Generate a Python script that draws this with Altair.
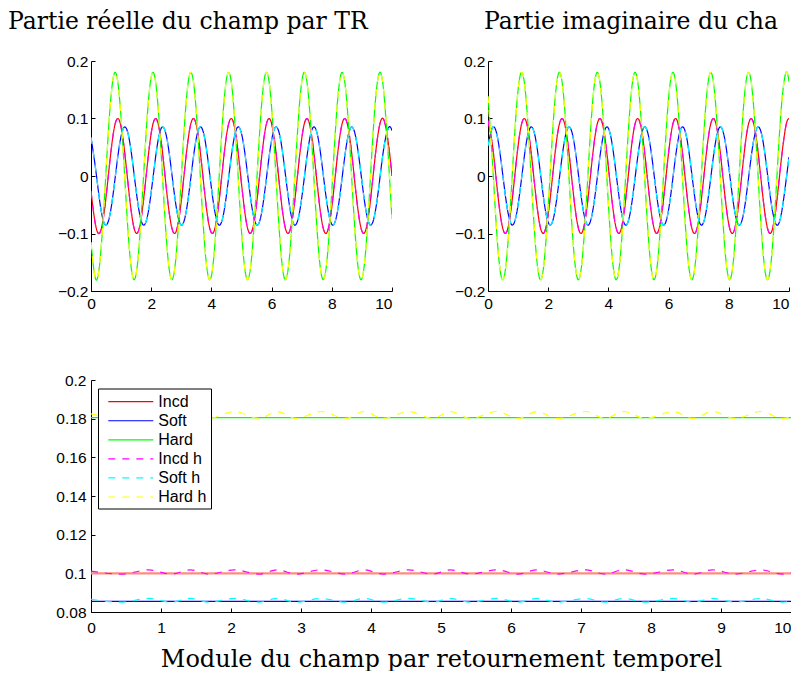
import altair as alt
import pandas as pd

# ---------------- data ----------------
# time samples (s) used for the real / imaginary parts
T = [0.000, 0.157, 0.314, 0.471, 0.628, 0.785, 0.942, 1.100,
     1.257, 1.414, 1.571, 1.728, 1.885, 2.042, 2.199, 2.356,
     2.513, 2.670, 2.827, 2.985, 3.142, 3.299, 3.456, 3.613,
     3.770, 3.927, 4.084, 4.241, 4.398, 4.555, 4.712, 4.869,
     5.027, 5.184, 5.341, 5.498, 5.655, 5.812, 5.969, 6.126,
     6.283, 6.440, 6.597, 6.754, 6.912, 7.069, 7.226, 7.383,
     7.540, 7.697, 7.854, 8.011, 8.168, 8.325, 8.482, 8.639,
     8.796, 8.954, 9.111, 9.268, 9.425, 9.582, 9.739, 9.896,
     10.000]

INCD_RE = [-0.0262, -0.0868, -0.0965, -0.0497, 0.0262, 0.0868, 0.0965, 0.0497,
           -0.0262, -0.0868, -0.0965, -0.0497, 0.0262, 0.0868, 0.0965, 0.0497,
           -0.0262, -0.0868, -0.0965, -0.0497, 0.0262, 0.0868, 0.0965, 0.0497,
           -0.0262, -0.0868, -0.0965, -0.0497, 0.0262, 0.0868, 0.0965, 0.0497,
           -0.0262, -0.0868, -0.0965, -0.0497, 0.0262, 0.0868, 0.0965, 0.0497,
           -0.0262, -0.0868, -0.0965, -0.0497, 0.0262, 0.0868, 0.0965, 0.0497,
           -0.0262, -0.0868, -0.0965, -0.0497, 0.0262, 0.0868, 0.0965, 0.0497,
           -0.0262, -0.0868, -0.0965, -0.0497, 0.0262, 0.0868, 0.0965, 0.0497,
           0.0]
INCD_IM = [0.0965, 0.0497, -0.0262, -0.0868, -0.0965, -0.0497, 0.0262, 0.0868,
           0.0965, 0.0497, -0.0262, -0.0868, -0.0965, -0.0497, 0.0262, 0.0868,
           0.0965, 0.0497, -0.0262, -0.0868, -0.0965, -0.0497, 0.0262, 0.0868,
           0.0965, 0.0497, -0.0262, -0.0868, -0.0965, -0.0497, 0.0262, 0.0868,
           0.0965, 0.0497, -0.0262, -0.0868, -0.0965, -0.0497, 0.0262, 0.0868,
           0.0965, 0.0497, -0.0262, -0.0868, -0.0965, -0.0497, 0.0262, 0.0868,
           0.0965, 0.0497, -0.0262, -0.0868, -0.0965, -0.0497, 0.0262, 0.0868,
           0.0965, 0.0497, -0.0262, -0.0868, -0.0965, -0.0497, 0.0262, 0.0868,
           0.1]
SOFT_RE = [0.0675, 0.0106, -0.0525, -0.0848, -0.0675, -0.0106, 0.0525, 0.0848,
           0.0675, 0.0106, -0.0525, -0.0848, -0.0675, -0.0106, 0.0525, 0.0848,
           0.0675, 0.0106, -0.0525, -0.0848, -0.0675, -0.0106, 0.0525, 0.0848,
           0.0675, 0.0106, -0.0525, -0.0848, -0.0675, -0.0106, 0.0525, 0.0848,
           0.0675, 0.0106, -0.0525, -0.0848, -0.0675, -0.0106, 0.0525, 0.0848,
           0.0675, 0.0106, -0.0525, -0.0848, -0.0675, -0.0106, 0.0525, 0.0848,
           0.0675, 0.0106, -0.0525, -0.0848, -0.0675, -0.0106, 0.0525, 0.0848,
           0.0675, 0.0106, -0.0525, -0.0848, -0.0675, -0.0106, 0.0525, 0.0848,
           0.0789]
SOFT_IM = [0.0525, 0.0848, 0.0675, 0.0106, -0.0525, -0.0848, -0.0675, -0.0106,
           0.0525, 0.0848, 0.0675, 0.0106, -0.0525, -0.0848, -0.0675, -0.0106,
           0.0525, 0.0848, 0.0675, 0.0106, -0.0525, -0.0848, -0.0675, -0.0106,
           0.0525, 0.0848, 0.0675, 0.0106, -0.0525, -0.0848, -0.0675, -0.0106,
           0.0525, 0.0848, 0.0675, 0.0106, -0.0525, -0.0848, -0.0675, -0.0106,
           0.0525, 0.0848, 0.0675, 0.0106, -0.0525, -0.0848, -0.0675, -0.0106,
           0.0525, 0.0848, 0.0675, 0.0106, -0.0525, -0.0848, -0.0675, -0.0106,
           0.0525, 0.0848, 0.0675, 0.0106, -0.0525, -0.0848, -0.0675, -0.0106,
           0.0330]
HARD_RE = [-0.1153, -0.1797, -0.1388, -0.0166, 0.1153, 0.1797, 0.1388, 0.0166,
           -0.1153, -0.1797, -0.1388, -0.0166, 0.1153, 0.1797, 0.1388, 0.0166,
           -0.1153, -0.1797, -0.1388, -0.0166, 0.1153, 0.1797, 0.1388, 0.0166,
           -0.1153, -0.1797, -0.1388, -0.0166, 0.1153, 0.1797, 0.1388, 0.0166,
           -0.1153, -0.1797, -0.1388, -0.0166, 0.1153, 0.1797, 0.1388, 0.0166,
           -0.1153, -0.1797, -0.1388, -0.0166, 0.1153, 0.1797, 0.1388, 0.0166,
           -0.1153, -0.1797, -0.1388, -0.0166, 0.1153, 0.1797, 0.1388, 0.0166,
           -0.1153, -0.1797, -0.1388, -0.0166, 0.1153, 0.1797, 0.1388, 0.0166,
           -0.0749]
HARD_IM = [0.1388, 0.0166, -0.1153, -0.1797, -0.1388, -0.0166, 0.1153, 0.1797,
           0.1388, 0.0166, -0.1153, -0.1797, -0.1388, -0.0166, 0.1153, 0.1797,
           0.1388, 0.0166, -0.1153, -0.1797, -0.1388, -0.0166, 0.1153, 0.1797,
           0.1388, 0.0166, -0.1153, -0.1797, -0.1388, -0.0166, 0.1153, 0.1797,
           0.1388, 0.0166, -0.1153, -0.1797, -0.1388, -0.0166, 0.1153, 0.1797,
           0.1388, 0.0166, -0.1153, -0.1797, -0.1388, -0.0166, 0.1153, 0.1797,
           0.1388, 0.0166, -0.1153, -0.1797, -0.1388, -0.0166, 0.1153, 0.1797,
           0.1388, 0.0166, -0.1153, -0.1797, -0.1388, -0.0166, 0.1153, 0.1797,
           0.1642]

# modulus panel: solid curves (constant) and dashed curves (small ripple)
MOD_T = [0.0, 10.0]
INCD_MOD = [0.1, 0.1]
SOFT_MOD = [0.0855, 0.0855]
HARD_MOD = [0.1805, 0.1805]

RIPPLE_T = [0.00, 0.43, 0.83, 1.14, 1.42, 1.68, 2.05, 2.40, 2.66, 2.93, 3.28,
            3.64, 3.90, 4.17, 4.54, 4.88, 5.13, 5.42, 5.80, 6.10, 6.37, 6.66,
            7.07, 7.34, 7.61, 7.92, 8.32, 8.60, 8.88, 9.20, 9.57, 9.88, 10.00]
INCD_H_MOD = [0.1012, 0.0996, 0.1018, 0.0996, 0.1018, 0.0996, 0.1018, 0.0996,
              0.1018, 0.0996, 0.1018, 0.0996, 0.1018, 0.0996, 0.1018, 0.0996,
              0.1018, 0.0996, 0.1018, 0.0996, 0.1018, 0.0996, 0.1018, 0.0996,
              0.1018, 0.0996, 0.1018, 0.0996, 0.1018, 0.0996, 0.1018, 0.0996,
              0.1003]
SOFT_H_MOD = [0.0866, 0.0851, 0.0870, 0.0851, 0.0870, 0.0851, 0.0870, 0.0851,
              0.0870, 0.0851, 0.0870, 0.0851, 0.0870, 0.0851, 0.0870, 0.0851,
              0.0870, 0.0851, 0.0870, 0.0851, 0.0870, 0.0851, 0.0870, 0.0851,
              0.0870, 0.0851, 0.0870, 0.0851, 0.0870, 0.0851, 0.0870, 0.0851,
              0.0856]
HARD_H_MOD = [0.1825, 0.1801, 0.1837, 0.1801, 0.1837, 0.1801, 0.1837, 0.1801,
              0.1837, 0.1801, 0.1837, 0.1801, 0.1837, 0.1801, 0.1837, 0.1801,
              0.1837, 0.1801, 0.1837, 0.1801, 0.1837, 0.1801, 0.1837, 0.1801,
              0.1837, 0.1801, 0.1837, 0.1801, 0.1837, 0.1801, 0.1837, 0.1801,
              0.1808]

SERIES = ["Incd", "Soft", "Hard", "Incd h", "Soft h", "Hard h"]
COLORS = ["#ff0000", "#0000ff", "#00ff00", "#ff00ff", "#00ffff", "#ffff00"]
DASHES = [[1, 0], [1, 0], [1, 0], [7, 7], [7, 7], [7, 7]]

X_TICKS_TOP = [0, 2, 4, 6, 8, 10]
Y_TICKS_TOP = [-0.2, -0.1, 0, 0.1, 0.2]
X_TICKS_BOT = [0, 1, 2, 3, 4, 5, 6, 7, 8, 9, 10]
Y_TICKS_BOT = [0.08, 0.1, 0.12, 0.14, 0.16, 0.18, 0.2]

TITLE_RE = "Partie réelle du champ par TR"
TITLE_IM = "Partie imaginaire du champ par TR"
X_TITLE = "Module du champ par retournement temporel"

SANS = "Liberation Sans"
SERIF = "DejaVu Serif"
TFS_TOP = 23.5
TFS = 24
LFS = 15.5

# last x label is kept inside the page (right aligned)
LAST_ALIGN = {"condition": {"test": "datum.value === 10", "value": "right"},
              "value": "center"}


def sdf(t, v, name):
    return pd.DataFrame({"t": t, "v": v, "series": name})


def enc_color():
    return alt.Color("series:N", scale=alt.Scale(domain=SERIES, range=COLORS),
                     legend=None)


def enc_dash():
    return alt.StrokeDash("series:N", scale=alt.Scale(domain=SERIES, range=DASHES),
                          legend=None)


def top_panel(parts, title, title_x, limit):
    x = alt.X("t:Q", scale=alt.Scale(domain=[0, 10], nice=False, zero=False),
              axis=alt.Axis(values=X_TICKS_TOP, title=None, format="~r",
                            labelFlush=False, labelPadding=5, grid=True,
                            gridDash=[4, 226], gridDashOffset=4,
                            labelAlign=LAST_ALIGN))
    y = alt.Y("v:Q", scale=alt.Scale(domain=[-0.2, 0.2], nice=False, zero=False),
              axis=alt.Axis(values=Y_TICKS_TOP, title=None, format="~r",
                            labelFlush=False, labelPadding=3, grid=True,
                            gridDash=[4, 2000]))
    layers = []
    for name, vals in parts:
        layers.append(
            alt.Chart(sdf(T, vals, name))
            .mark_line(interpolate="natural", strokeWidth=1.2, clip=True)
            .encode(x=x, y=y, color=enc_color(), strokeDash=enc_dash())
        )
    txt_kw = dict(align="left", baseline="alphabetic", font=SERIF,
                  fontSize=TFS_TOP, color="black")
    if limit:
        txt_kw.update(limit=limit, ellipsis="\u200b")
    ttl = (alt.Chart(pd.DataFrame({"txt": [title]}))
           .mark_text(**txt_kw)
           .encode(text="txt:N", x=alt.value(title_x), y=alt.value(-32)))
    return alt.layer(*layers, ttl).properties(width=301, height=230)


left = top_panel([("Incd", INCD_RE), ("Soft", SOFT_RE), ("Hard", HARD_RE),
                  ("Incd h", INCD_RE), ("Soft h", SOFT_RE), ("Hard h", HARD_RE)],
                 TITLE_RE, -83, 0)
right = top_panel([("Incd", INCD_IM), ("Soft", SOFT_IM), ("Hard", HARD_IM),
                   ("Incd h", INCD_IM), ("Soft h", SOFT_IM), ("Hard h", HARD_IM)],
                  TITLE_IM, -4, 306)

bx = alt.X("t:Q", scale=alt.Scale(domain=[0, 10], nice=False, zero=False),
           axis=alt.Axis(values=X_TICKS_BOT, title=X_TITLE, format="~r",
                         labelFlush=False, labelPadding=8, grid=True,
                         gridDash=[4, 228], gridDashOffset=4,
                         labelAlign=LAST_ALIGN,
                         titleY=54, titleBaseline="alphabetic",
                         titleFont=SERIF, titleFontSize=TFS))
by = alt.Y("v:Q", scale=alt.Scale(domain=[0.08, 0.2], nice=False, zero=False),
           axis=alt.Axis(values=Y_TICKS_BOT, title=None, format="~r",
                         labelFlush=False, labelPadding=5, grid=True,
                         gridDash=[4, 2000]))

b_layers = []
for name, tt, vals, interp in [("Incd", MOD_T, INCD_MOD, "linear"),
                               ("Soft", MOD_T, SOFT_MOD, "linear"),
                               ("Hard", MOD_T, HARD_MOD, "linear"),
                               ("Incd h", RIPPLE_T, INCD_H_MOD, "monotone"),
                               ("Soft h", RIPPLE_T, SOFT_H_MOD, "monotone"),
                               ("Hard h", RIPPLE_T, HARD_H_MOD, "monotone")]:
    if name == "Incd":
        # the incident modulus line looks wider and lighter in the reference
        b_layers.append(
            alt.Chart(sdf(tt, vals, name))
            .mark_line(color="#ff8b80", strokeWidth=2.2, clip=True)
            .encode(x=bx, y=by)
        )
    else:
        b_layers.append(
            alt.Chart(sdf(tt, vals, name))
            .mark_line(interpolate=interp, strokeWidth=1.2, clip=True)
            .encode(x=bx, y=by, color=enc_color(), strokeDash=enc_dash())
        )

# ---- legend box (inside the bottom panel, top-left) ----
LEG_X0, LEG_X1, LEG_Y0, LEG_Y1 = 7.5, 120.5, 9, 129
ROW0, ROW_STEP = 21.7, 19.06
SYM_X0, SYM_X1, LAB_X = 17.3, 62.3, 67.3

leg_layers = [
    alt.Chart(pd.DataFrame({"box": [1]}))
    .mark_rect(fill="white", stroke="black", strokeWidth=1)
    .encode(x=alt.value(LEG_X0), x2=alt.value(LEG_X1),
            y=alt.value(LEG_Y0), y2=alt.value(LEG_Y1))
]
for i, name in enumerate(SERIES):
    row = pd.DataFrame({"series": [name]})
    yy = ROW0 + ROW_STEP * i
    leg_layers.append(
        alt.Chart(row).mark_rule(strokeWidth=1.2)
        .encode(x=alt.value(SYM_X0), x2=alt.value(SYM_X1), y=alt.value(yy),
                color=enc_color(), strokeDash=enc_dash())
    )
    leg_layers.append(
        alt.Chart(row).mark_text(align="left", baseline="middle", font=SANS,
                                 fontSize=16, color="black")
        .encode(text="series:N", x=alt.value(LAB_X), y=alt.value(yy))
    )

# invisible spacer so that the bottom panel's left edge lines up with the top-left panel
spacer = (alt.Chart(pd.DataFrame({"s": ["\u200b"]}))
          .mark_text(align="left", font=SERIF, fontSize=10)
          .encode(text="s:N", x=alt.value(-83), y=alt.value(116)))
bottom = alt.layer(*b_layers, *leg_layers, spacer).properties(width=700, height=232)

top_row = alt.hconcat(left, right, spacing=96, bounds="flush").resolve_scale(
    color="independent", strokeDash="independent")

chart = (
    alt.vconcat(top_row, bottom, spacing=61)
    .resolve_scale(color="independent", strokeDash="independent")
    .properties(padding={"left": 0, "top": 2, "right": 0, "bottom": 0},
                background="white")
    .configure_view(strokeWidth=0)
    .configure_axis(domainColor="black", domainWidth=1, ticks=False,
                    gridColor="black", gridWidth=1, gridOpacity=1,
                    labelFont=SANS, labelFontSize=LFS, labelColor="black",
                    titleFont=SERIF, titleFontWeight="normal", titleColor="black")
)

chart.save("out.html", embed_options={"renderer": "svg", "actions": False})
